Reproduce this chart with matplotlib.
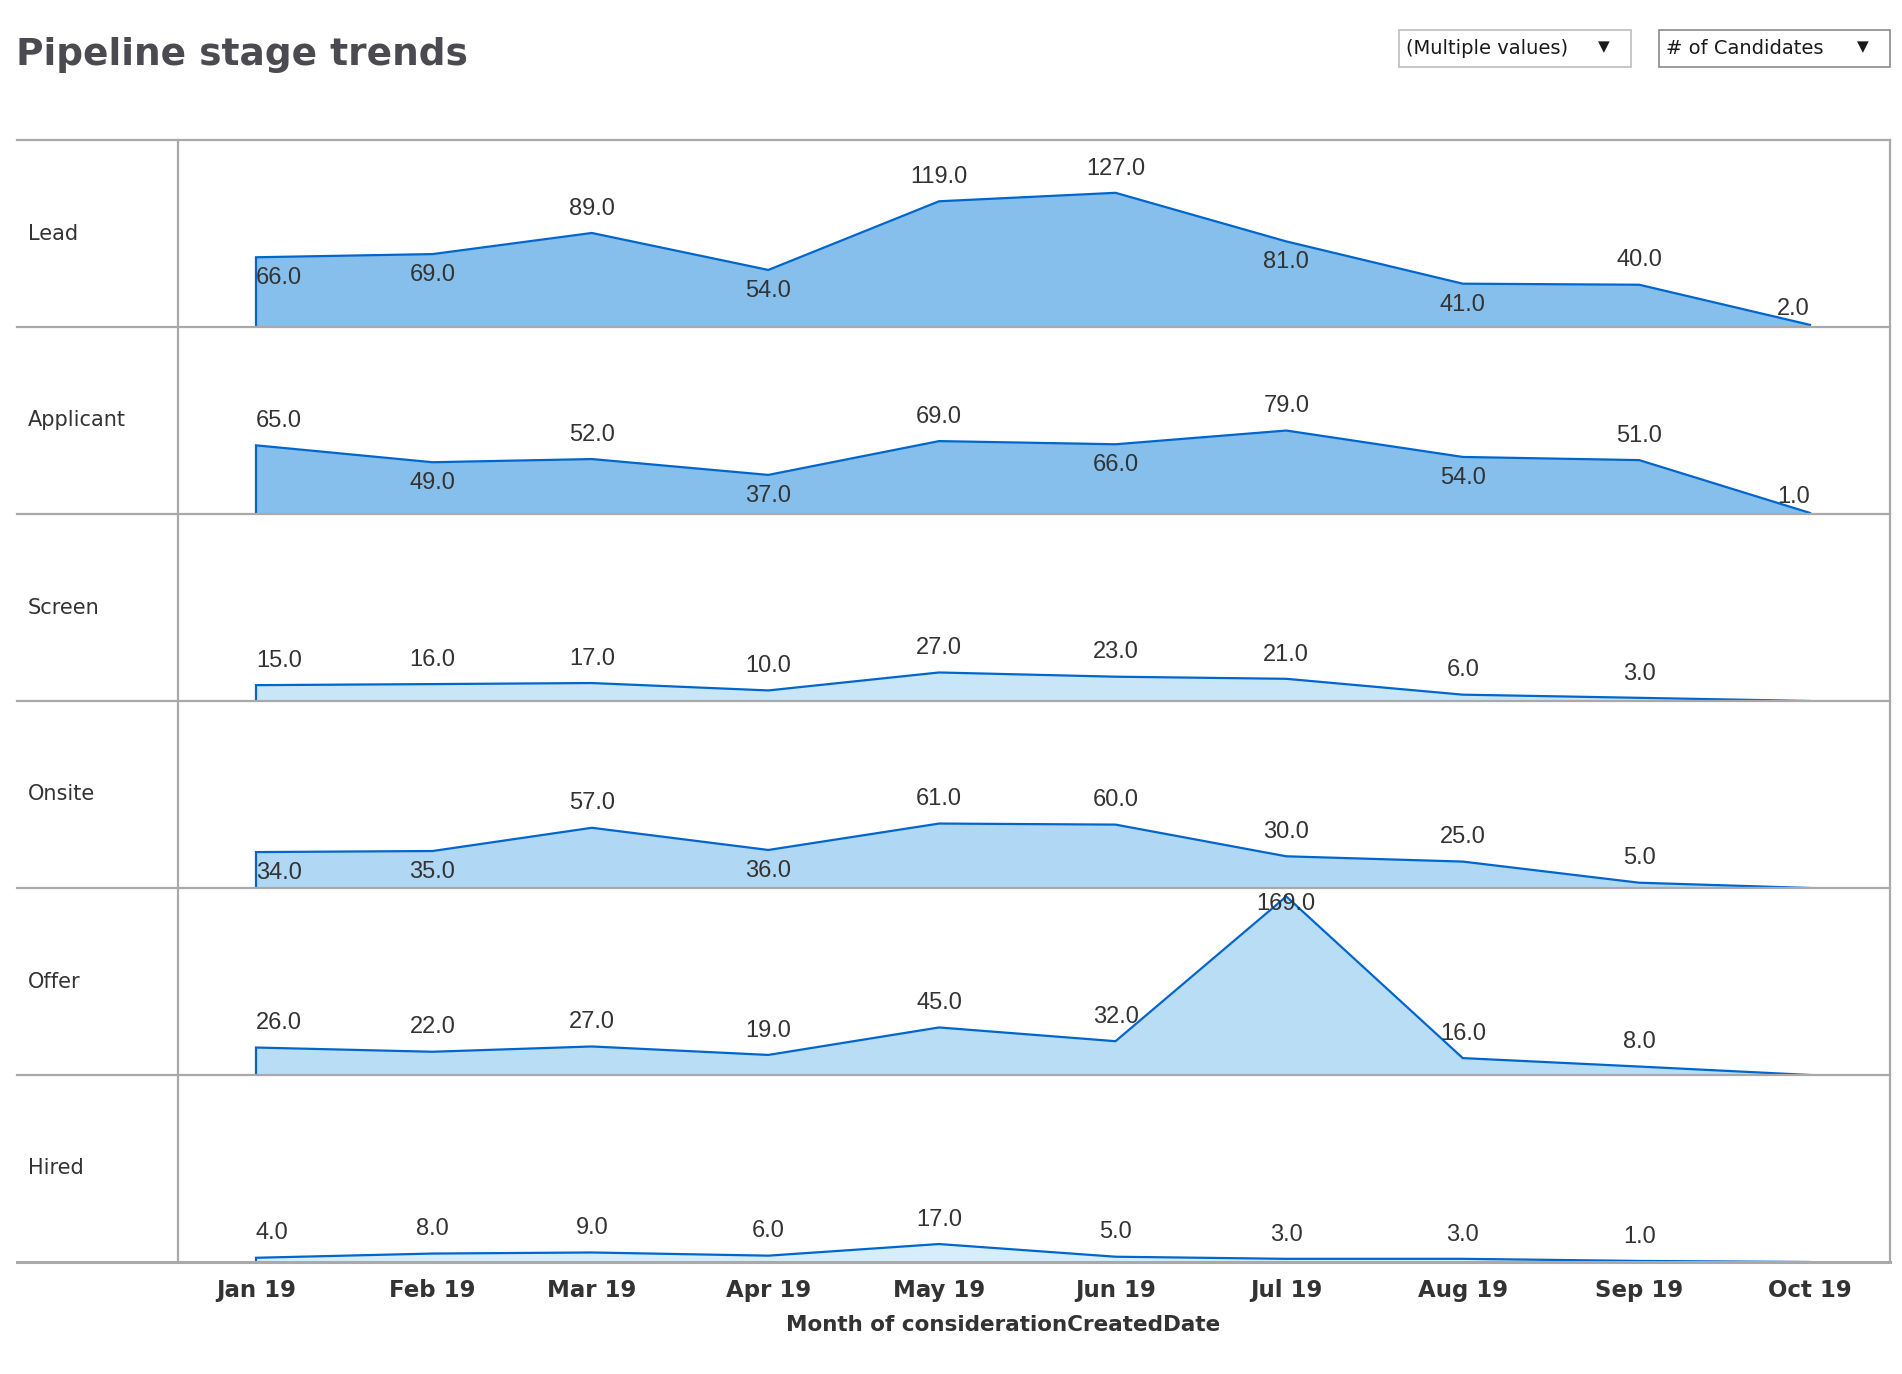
import numpy as np
import matplotlib
matplotlib.use("Agg")
import matplotlib.pyplot as plt
import matplotlib.dates as mdates
from matplotlib.lines import Line2D
from matplotlib.patches import Rectangle
from datetime import datetime

W, H = 1902, 1374

months = ["2019-01-01", "2019-02-01", "2019-03-01", "2019-04-01", "2019-05-01",
          "2019-06-01", "2019-07-01", "2019-08-01", "2019-09-01", "2019-10-01"]
month_labels = ["Jan 19", "Feb 19", "Mar 19", "Apr 19", "May 19",
                "Jun 19", "Jul 19", "Aug 19", "Sep 19", "Oct 19"]

stages = ["Lead", "Applicant", "Screen", "Onsite", "Offer", "Hired"]
lead = [66, 69, 89, 54, 119, 127, 81, 41, 40, 2]
applicant = [65, 49, 52, 37, 69, 66, 79, 54, 51, 1]
screen = [15, 16, 17, 10, 27, 23, 21, 6, 3, 0]
onsite = [34, 35, 57, 36, 61, 60, 30, 25, 5, 0]
offer = [26, 22, 27, 19, 45, 32, 169, 16, 8, 0]
hired = [4, 8, 9, 6, 17, 5, 3, 3, 1, 0]
series = [lead, applicant, screen, onsite, offer, hired]

fill_colors = ["#86bfeb", "#86bfeb", "#c9e5f8", "#b0d7f3", "#b9ddf5", "#d6edfc"]
line_color = "#0066cc"
grid_color = "#a9a9a9"
text_color = "#333333"

x = mdates.date2num([datetime.strptime(m, "%Y-%m-%d") for m in months])

fig = plt.figure(figsize=(W / 100, H / 100), dpi=100)

def fx(px):
    return px / W

def fy(py):
    return 1 - py / H

# layout of the table (pixels)
left_edge, divider, right_edge = 17, 178, 1890
top, row_h = 140, 187
ymax = 177
ax_w = right_edge - divider
px_per_day = (1810 - 256) / (x[-1] - x[0])
xmin = x[0] - (256 - divider) / px_per_day
xmax = x[-1] + (right_edge - 1810) / px_per_day
pane_pt = row_h * 72 / 100.0

axes = []
for i, (name, vals) in enumerate(zip(stages, series)):
    y0 = top + (i + 1) * row_h
    ax = fig.add_axes([fx(divider), fy(y0), fx(ax_w), row_h / H])
    ax.set_xlim(xmin, xmax)
    ax.set_ylim(0, ymax)
    for s in ax.spines.values():
        s.set_visible(False)
    ax.set_yticks([])
    ax.set_xticks([])
    ax.fill_between(x, 0, vals, color=fill_colors[i], lw=0)
    ax.plot(np.r_[x[0], x], np.r_[0, vals], color=line_color, lw=1.6,
            solid_joinstyle="miter")
    n = len(vals)
    for j, v in enumerate(vals):
        if v == 0:
            continue
        if j == 0:
            nb = vals[1]
        elif j == n - 1:
            nb = vals[j - 1]
        else:
            nb = (vals[j - 1] + vals[j + 1]) / 2
        below = v >= 33 and v < nb
        ha = "left" if j == 0 else ("right" if j == n - 1 else "center")
        if below:
            dy = -15
        else:
            dy = 11.5 if j == n - 1 else 17.5
            # keep the label inside its pane
            dy = min(dy, pane_pt - 11.5 - v / ymax * pane_pt)
        ax.annotate("%.1f" % v, (x[j], v), xytext=(0, dy),
                    textcoords="offset points", ha=ha, va="center",
                    fontsize=17, color=text_color, family="Liberation Sans",
                    annotation_clip=False)
    fig.text(fx(28), fy(y0 - row_h / 2), name, fontsize=15, color=text_color,
             ha="left", va="center", family="DejaVu Sans")
    axes.append(ax)

# month axis on the bottom pane
ax = axes[-1]
ax.set_xticks(x)
ax.set_xticklabels(month_labels, fontsize=16.5, fontweight="bold", color=text_color)
ax.tick_params(axis="x", length=0, pad=12)
fig.text(fx(1003), fy(1325), "Month of considerationCreatedDate", fontsize=15.5,
         fontweight="bold", color=text_color, ha="center", va="center")

# table lines
for i in range(7):
    yy = fy(top + i * row_h)
    fig.add_artist(Line2D([fx(left_edge), fx(right_edge)], [yy, yy],
                          color=grid_color, lw=1.6 if i < 6 else 2.2))
for xx in (divider, right_edge):
    fig.add_artist(Line2D([fx(xx), fx(xx)], [fy(top), fy(top + 6 * row_h)],
                          color=grid_color, lw=1.6))

# title
fig.text(fx(16), fy(55), "Pipeline stage trends", fontsize=27, fontweight="bold",
         color="#4a4a50", ha="left", va="center")

# filter boxes
boxes = [(1399, 1631, "(Multiple values)", "#bdbdbd"),
         (1659, 1890, "# of Candidates", "#8a8a8a")]
for bx0, bx1, txt, ec in boxes:
    fig.add_artist(Rectangle((fx(bx0), fy(67)), fx(bx1 - bx0), 37 / H,
                             facecolor="white", edgecolor=ec, lw=1.2))
    fig.text(fx(bx0 + 7), fy(48.5), txt, fontsize=14, color="#1a1a1a",
             ha="left", va="center")
    fig.text(fx(bx1 - 27), fy(46.5), "\u25bc", fontsize=11, color="#1a1a1a",
             ha="center", va="center")

fig.savefig("out.png", dpi=100)
